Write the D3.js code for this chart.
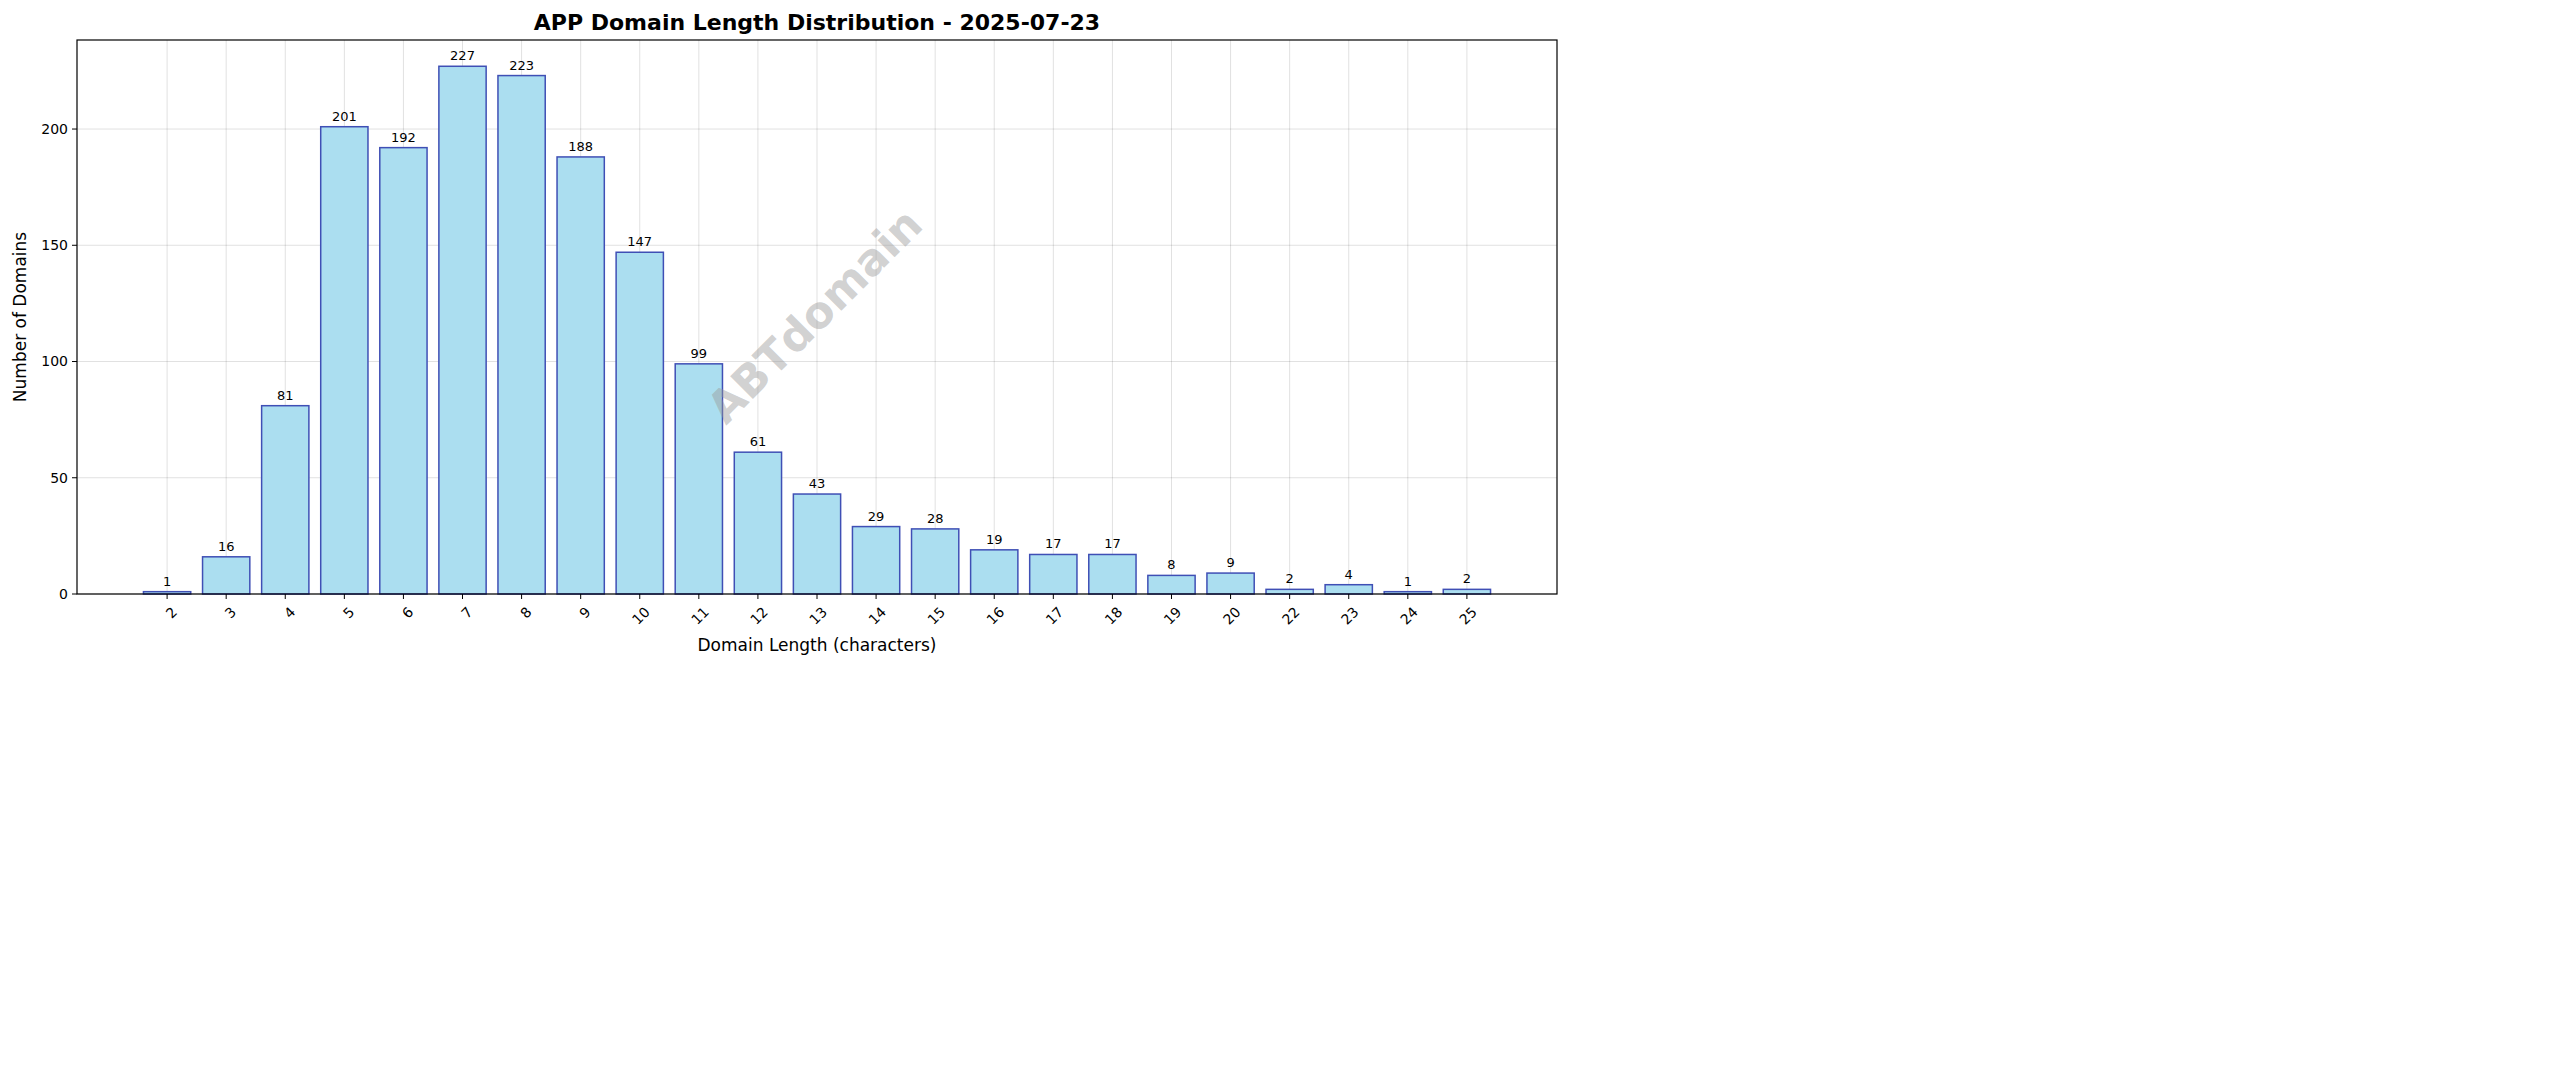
<!DOCTYPE html>
<html lang="en">
<head>
<meta charset="utf-8">
<title>APP Domain Length Distribution</title>
<script src="https://cdn.jsdelivr.net/npm/d3@7"></script>
<style>
  body { margin: 0; background: white; }
  text { font-family: "DejaVu Sans", sans-serif; }
</style>
</head>
<body>
<script>
var lengths = ["2","3","4","5","6","7","8","9","10","11","12","13","14","15","16","17","18","19","20","22","23","24","25"];
var counts = [1,16,81,201,192,227,223,188,147,99,61,43,29,28,19,17,17,8,9,2,4,1,2];
var yTicks = [0,50,100,150,200];

var W = 2560, H = 1087;
var padL = 77, padR = 1557, padT = 40, padB = 594;

var svg = d3.select("body").append("svg").attr("width", W).attr("height", H);
svg.append("rect").attr("width", W).attr("height", H).attr("fill", "white");

// index scale, matplotlib-like margins
var x = d3.scaleLinear().domain([-1.525, lengths.length - 1 + 1.525]).range([padL, padR]);
var y = d3.scaleLinear().domain([0, 238.3]).range([padB, padT]);
var step = x(1) - x(0);
var bw = step * 0.8;

// grid
svg.selectAll("line.gy").data(yTicks).enter().append("line")
  .attr("x1", padL).attr("x2", padR)
  .attr("y1", function(d) { return y(d); }).attr("y2", function(d) { return y(d); })
  .attr("stroke", "#000").attr("stroke-opacity", 0.12).attr("stroke-width", 1);
svg.selectAll("line.gx").data(lengths).enter().append("line")
  .attr("y1", padT).attr("y2", padB)
  .attr("x1", function(d, i) { return x(i); }).attr("x2", function(d, i) { return x(i); })
  .attr("stroke", "#000").attr("stroke-opacity", 0.12).attr("stroke-width", 1);

// bars
svg.selectAll("rect.bar").data(counts).enter().append("rect")
  .attr("x", function(d, i) { return x(i) - bw / 2; })
  .attr("y", function(d) { return y(d); })
  .attr("width", bw)
  .attr("height", function(d) { return padB - y(d); })
  .attr("fill", "#abdef0")
  .attr("stroke", "#3f4fb5").attr("stroke-width", 1.5);

// value labels
svg.selectAll("text.val").data(counts).enter().append("text")
  .attr("x", function(d, i) { return x(i); })
  .attr("y", function(d) { return y(d) - 6; })
  .attr("text-anchor", "middle").attr("font-size", 13)
  .text(function(d) { return d; });

// watermark
svg.append("text")
  .attr("transform", "translate(817,318) rotate(-45)")
  .attr("text-anchor", "middle").attr("dominant-baseline", "middle")
  .attr("font-size", 44).attr("font-weight", "bold")
  .attr("fill", "#999").attr("fill-opacity", 0.45)
  .text("ABTdomain");

// frame
svg.append("rect").attr("x", padL).attr("y", padT)
  .attr("width", padR - padL).attr("height", padB - padT)
  .attr("fill", "none").attr("stroke", "#000").attr("stroke-width", 1.2);

// y axis
var yg = svg.append("g");
yTicks.forEach(function(t) {
  yg.append("line").attr("x1", padL - 5).attr("x2", padL).attr("y1", y(t)).attr("y2", y(t)).attr("stroke", "#000");
  yg.append("text").attr("x", padL - 9).attr("y", y(t)).attr("dy", "0.35em")
    .attr("text-anchor", "end").attr("font-size", 14).text(t);
});

// x axis
lengths.forEach(function(l, i) {
  svg.append("line").attr("x1", x(i)).attr("x2", x(i)).attr("y1", padB).attr("y2", padB + 5).attr("stroke", "#000");
  svg.append("text")
    .attr("transform", "translate(" + (x(i) + 4) + "," + (padB + 12) + ") rotate(-45)")
    .attr("text-anchor", "end").attr("dy", "0.7em").attr("font-size", 14).text(l);
});

// labels
svg.append("text").attr("x", (padL + padR) / 2).attr("y", 651)
  .attr("text-anchor", "middle").attr("font-size", 17).text("Domain Length (characters)");
svg.append("text").attr("transform", "translate(26," + (padT + padB) / 2 + ") rotate(-90)")
  .attr("text-anchor", "middle").attr("font-size", 17).text("Number of Domains");
svg.append("text").attr("x", (padL + padR) / 2).attr("y", 30)
  .attr("text-anchor", "middle").attr("font-size", 22).attr("font-weight", "bold")
  .text("APP Domain Length Distribution - 2025-07-23");
</script>
</body>
</html>
